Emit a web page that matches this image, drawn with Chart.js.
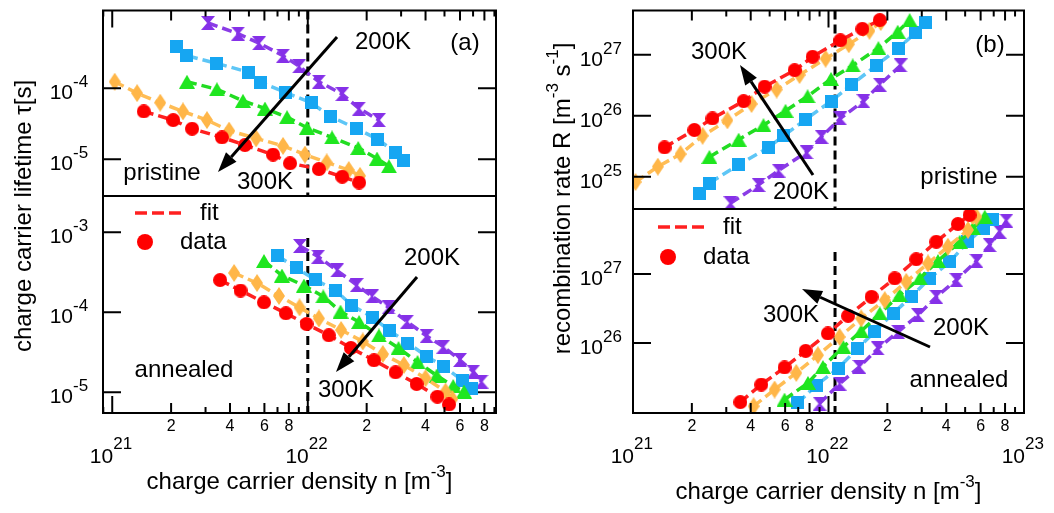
<!DOCTYPE html>
<html>
<head>
<meta charset="utf-8">
<script src="https://cdn.jsdelivr.net/npm/chart.js@4.4.1/dist/chart.umd.min.js"></script>
<style>
  html, body { margin: 0; padding: 0; background: #fff; }
  #wrap { position: relative; width: 1054px; height: 513px; }
  #wrap canvas { position: absolute; left: 0; top: 0; }
</style>
</head>
<body>
<div id="wrap">
  <canvas id="aTop" width="1054" height="513"></canvas>
  <canvas id="aBot" width="1054" height="513"></canvas>
  <canvas id="bTop" width="1054" height="513"></canvas>
  <canvas id="bBot" width="1054" height="513"></canvas>
</div>
<script>
const FONT = "'Liberation Sans', Arial, Helvetica, sans-serif";

// series order: 300K (red) ... 200K (purple)
const temps = ["300 K", "275 K", "250 K", "225 K", "200 K"];
const markerFill = ["#ff0000", "#ffb648", "#1fe61f", "#16a6f2", "#8530e8"];
const lineFill = ["#ff2020", "#ffbd55", "#22dc22", "#5ec6f6", "#8a3ce6"];

// vertical guide at fixed density, panel (a) and (b)
const guideDensity = [1.0e22, 1.08e22];
// where the guide starts in the annealed plots
const guideTopAnnealed = [8.5e-4, 2.1e27];

// labelled decades on each y axis
const decadesTauPristine = [-4, -5];
const decadesTauAnnealed = [-3, -4, -5];
const decadesRatePristine = [25, 26, 27];
const decadesRateAnnealed = [26, 27];

// ---- lifetime, pristine ----
const tauPristineN = [
  [1.45e21, 2.05e21, 2.56e21, 3.64e21, 4.77e21, 6.64e21, 8.11e21, 1.14e22, 1.50e22, 1.83e22],
  [1.03e21, 1.34e21, 1.76e21, 2.30e21, 3.05e21, 3.96e21, 5.44e21, 7.47e21, 9.67e21, 1.25e22, 1.62e22, 1.85e22],
  [2.41e21, 3.43e21, 4.66e21, 6.04e21, 7.83e21, 9.91e21, 1.33e22, 1.81e22, 2.26e22, 2.60e22],
  [2.14e21, 2.41e21, 3.43e21, 4.95e21, 5.76e21, 7.65e21, 1.04e22, 1.30e22, 1.78e22, 2.28e22, 2.82e22, 3.10e22],
  [3.09e21, 4.40e21, 5.63e21, 7.47e21, 9.02e21, 1.14e22, 1.50e22, 1.83e22, 2.31e22]
];
const tauPristine = [
  [4.72e-5, 3.56e-5, 2.69e-5, 2.03e-5, 1.58e-5, 1.16e-5, 8.75e-6, 7.24e-6, 5.65e-6, 4.68e-6],
  [1.24e-4, 8.55e-5, 6.26e-5, 4.72e-5, 3.56e-5, 2.53e-5, 1.97e-5, 1.54e-5, 1.16e-5, 9.0e-6, 7.03e-6, 5.82e-6],
  [1.24e-4, 9.69e-5, 6.67e-5, 5.19e-5, 3.92e-5, 2.78e-5, 2.03e-5, 1.44e-5, 1.02e-5, 7.96e-6],
  [3.95e-4, 2.89e-4, 2.25e-4, 1.70e-4, 1.21e-4, 8.82e-5, 6.26e-5, 4.04e-5, 2.69e-5, 1.91e-5, 1.23e-5, 9.6e-6],
  [8.37e-4, 5.93e-4, 4.34e-4, 2.89e-4, 2.05e-4, 1.24e-4, 8.29e-5, 5.19e-5, 3.56e-5]
];

// ---- lifetime, annealed ----
const tauAnnealedN = [
  [3.56e21, 4.53e21, 5.97e21, 7.73e21, 9.85e21, 1.28e22, 1.66e22, 2.18e22, 2.81e22, 3.60e22, 4.60e22, 5.27e22],
  [4.20e21, 5.50e21, 7.12e21, 9.07e21, 1.14e22, 1.48e22, 1.91e22, 2.42e22, 3.10e22, 4.00e22, 5.06e22, 5.49e22],
  [5.97e21, 7.38e21, 9.56e21, 1.20e22, 1.47e22, 1.83e22, 2.31e22, 2.91e22, 3.64e22, 4.56e22, 5.54e22, 6.29e22],
  [7.04e21, 8.71e21, 1.09e22, 1.39e22, 1.68e22, 2.14e22, 2.61e22, 3.25e22, 4.03e22, 4.96e22, 6.18e22, 6.89e22],
  [9.12e21, 1.13e22, 1.41e22, 1.78e22, 2.13e22, 2.59e22, 3.22e22, 4.05e22, 4.93e22, 6.00e22, 7.02e22, 7.74e22]
];
const tauAnnealed = [
  [2.53e-4, 1.87e-4, 1.33e-4, 9.72e-5, 7.14e-5, 5.16e-5, 3.58e-5, 2.51e-5, 1.78e-5, 1.27e-5, 8.81e-6, 7.04e-6],
  [3.10e-4, 2.32e-4, 1.60e-4, 1.15e-4, 8.37e-5, 6.01e-5, 4.32e-5, 3.01e-5, 2.19e-5, 1.50e-5, 1.02e-5, 8.25e-6],
  [4.38e-4, 2.88e-4, 2.16e-4, 1.58e-4, 1.02e-4, 7.56e-5, 5.13e-5, 3.58e-5, 2.39e-5, 1.62e-5, 1.20e-5, 1.02e-5],
  [5.06e-4, 3.58e-4, 2.56e-4, 1.86e-4, 1.22e-4, 8.69e-5, 5.92e-5, 4.13e-5, 2.84e-5, 2.09e-5, 1.41e-5, 1.11e-5],
  [6.74e-4, 4.95e-4, 3.33e-4, 2.19e-4, 1.58e-4, 1.15e-4, 7.63e-5, 5.06e-5, 3.72e-5, 2.53e-5, 1.81e-5, 1.36e-5]
];

// ---- recombination rate, pristine ----
const ratePristineN = [
  [1.45e21, 2.06e21, 2.55e21, 3.68e21, 4.71e21, 6.71e21, 8.29e21, 1.15e22, 1.49e22, 1.83e22],
  [1.03e21, 1.34e21, 1.75e21, 2.27e21, 3.04e21, 4.04e21, 5.43e21, 7.11e21, 9.66e21, 1.27e22, 1.62e22, 1.85e22],
  [2.46e21, 3.47e21, 4.65e21, 6.03e21, 7.82e21, 1.03e22, 1.33e22, 1.80e22, 2.26e22, 2.60e22],
  [2.19e21, 2.46e21, 3.47e21, 4.94e21, 5.89e21, 7.64e21, 1.03e22, 1.31e22, 1.76e22, 2.28e22, 2.79e22, 3.14e22],
  [3.15e21, 4.39e21, 5.55e21, 7.72e21, 9.22e21, 1.15e22, 1.51e22, 1.83e22, 2.34e22]
];
const ratePristine = [
  [3.04e25, 5.86e25, 9.06e25, 1.74e26, 3.01e26, 5.59e26, 9.30e26, 1.73e27, 2.67e27, 3.71e27],
  [8.22e24, 1.47e25, 2.36e25, 4.71e25, 8.43e25, 1.56e26, 2.70e26, 4.66e26, 8.65e26, 1.49e27, 2.48e27, 3.44e27],
  [2.12e25, 4.07e25, 7.03e25, 1.21e26, 2.09e26, 4.03e26, 6.71e26, 1.29e27, 2.39e27, 3.71e27],
  [5.31e24, 7.92e24, 1.58e25, 3.04e25, 4.71e25, 8.74e25, 1.74e26, 3.24e26, 6.71e26, 1.29e27, 2.31e27, 3.44e27],
  [3.69e24, 7.37e24, 1.27e25, 2.54e25, 4.54e25, 9.06e25, 1.74e26, 3.24e26, 6.71e26]
];

// ---- recombination rate, annealed ----
const rateAnnealedN = [
  [3.54e21, 4.53e21, 5.96e21, 7.64e21, 9.93e21, 1.26e22, 1.66e22, 2.18e22, 2.81e22, 3.56e22, 4.59e22, 5.27e22],
  [4.14e21, 5.30e21, 6.84e21, 8.83e21, 1.14e22, 1.47e22, 1.94e22, 2.50e22, 3.23e22, 4.08e22, 5.17e22, 5.71e22],
  [5.96e21, 7.85e21, 9.36e21, 1.19e22, 1.47e22, 1.83e22, 2.31e22, 2.93e22, 3.63e22, 4.69e22, 5.48e22, 6.30e22],
  [6.97e21, 8.66e21, 1.12e22, 1.41e22, 1.72e22, 2.14e22, 2.65e22, 3.29e22, 4.17e22, 5.17e22, 6.17e22, 6.94e22],
  [9.00e21, 1.14e22, 1.44e22, 1.79e22, 2.27e22, 2.87e22, 3.56e22, 4.51e22, 5.71e22, 6.68e22, 7.51e22, 8.13e22]
];
const rateAnnealed = [
  [1.38e25, 2.48e25, 4.39e25, 7.65e25, 1.37e26, 2.47e26, 4.67e26, 8.66e26, 1.64e27, 2.95e27, 5.34e27, 7.22e27],
  [1.20e25, 2.10e25, 3.66e25, 6.62e25, 1.22e26, 2.27e26, 4.18e26, 7.72e26, 1.43e27, 2.50e27, 4.37e27, 6.82e27],
  [1.50e25, 2.62e25, 4.47e25, 8.75e25, 1.48e26, 2.68e26, 4.95e26, 8.66e26, 1.55e27, 2.95e27, 4.63e27, 6.82e27],
  [1.34e25, 2.42e25, 4.24e25, 8.29e25, 1.45e26, 2.68e26, 4.67e26, 8.66e26, 1.51e27, 2.95e27, 4.63e27, 6.25e27],
  [1.31e25, 2.56e25, 4.47e25, 8.29e25, 1.45e26, 2.53e26, 4.67e26, 8.18e26, 1.56e27, 2.64e27, 4.13e27, 5.97e27]
];

// marker glyphs: circle, diamond, triangle, square, hourglass
function shape(w, h, color, path) {
  const c = document.createElement("canvas");
  c.width = w; c.height = h;
  const g = c.getContext("2d");
  g.fillStyle = color;
  g.beginPath();
  path(g);
  g.closePath();
  g.fill();
  return c;
}
const markers = [
  shape(14, 14, markerFill[0], g => g.arc(7, 7, 7, 0, Math.PI * 2)),
  shape(12, 18, markerFill[1], g => { g.moveTo(6, 0); g.lineTo(12, 9); g.lineTo(6, 18); g.lineTo(0, 9); }),
  shape(16, 14, markerFill[2], g => { g.moveTo(8, 0); g.lineTo(16, 14); g.lineTo(0, 14); }),
  shape(13, 13, markerFill[3], g => g.rect(0, 0, 13, 13)),
  shape(14, 14, markerFill[4], g => { g.moveTo(0, 0); g.lineTo(14, 0); g.lineTo(8, 7); g.lineTo(14, 14); g.lineTo(0, 14); g.lineTo(6, 7); })
];

// text with superscript pieces: parts = [[text, isSup], ...]
function rich(ctx, parts, x, y, align, size = 24, supSize = 17, rise = 10) {
  let w = 0;
  parts.forEach(([t, s]) => { ctx.font = (s ? supSize : size) + "px " + FONT; w += ctx.measureText(t).width; });
  let cx = align === "center" ? x - w / 2 : align === "right" ? x - w : x;
  ctx.textAlign = "left";
  ctx.textBaseline = "middle";
  parts.forEach(([t, s]) => {
    ctx.font = (s ? supSize : size) + "px " + FONT;
    ctx.fillText(t, cx, s ? y - rise : y);
    cx += ctx.measureText(t).width;
  });
}
function label(ctx, t, x, y, align = "center") {
  rich(ctx, [[t]], x, y, align);
}
function power(ctx, exp, xJoin, yBase, ySup) {
  ctx.textBaseline = "middle";
  ctx.font = "21px " + FONT;
  ctx.textAlign = "right";
  ctx.fillText("10", xJoin, yBase);
  ctx.font = "17px " + FONT;
  ctx.textAlign = "left";
  ctx.fillText(exp, xJoin, ySup);
}
function arrow(ctx, x1, y1, x2, y2) {
  const a = Math.atan2(y2 - y1, x2 - x1), L = 20, W = 7;
  const bx = x2 - L * Math.cos(a), by = y2 - L * Math.sin(a);
  ctx.setLineDash([]);
  ctx.lineWidth = 3;
  ctx.beginPath(); ctx.moveTo(x1, y1); ctx.lineTo(bx, by); ctx.stroke();
  ctx.beginPath();
  ctx.moveTo(x2, y2);
  ctx.lineTo(bx + W * Math.sin(a), by - W * Math.cos(a));
  ctx.lineTo(bx - W * Math.sin(a), by + W * Math.cos(a));
  ctx.closePath(); ctx.fill();
}
function legend(ctx, x, yFit, yData) {
  ctx.save();
  ctx.strokeStyle = lineFill[0]; ctx.lineWidth = 3.5; ctx.setLineDash([12, 5]);
  ctx.beginPath(); ctx.moveTo(x, yFit); ctx.lineTo(x + 47, yFit); ctx.stroke();
  ctx.restore();
  ctx.fillStyle = markerFill[0];
  ctx.beginPath(); ctx.arc(x + 10, yData, 8, 0, Math.PI * 2); ctx.fill();
  ctx.fillStyle = "#000";
  label(ctx, "fit", x + 65, yFit, "left");
  label(ctx, "data", x + 45, yData, "left");
}
function yTitle(ctx, parts, cx, cy) {
  ctx.save();
  ctx.translate(cx, cy);
  ctx.rotate(-Math.PI / 2);
  rich(ctx, parts, 0, 0, "center");
  ctx.restore();
}

// frame, log ticks, guide line and panel texts
function axesPlugin(spec) {
  return {
    id: "axes",
    beforeDatasetsDraw(chart) {
      const { ctx, chartArea: a, scales: { x, y } } = chart;
      const gx = x.getPixelForValue(spec.guide);
      const gy = spec.guideTop ? y.getPixelForValue(spec.guideTop) : a.top;
      ctx.save();
      ctx.strokeStyle = "#000"; ctx.lineWidth = 3; ctx.setLineDash([9, 5]);
      ctx.beginPath(); ctx.moveTo(gx, gy); ctx.lineTo(gx, a.bottom); ctx.stroke();
      ctx.restore();
    },
    afterDatasetsDraw(chart) {
      const { ctx, chartArea: a, scales: { x, y } } = chart;
      ctx.save();
      ctx.setLineDash([]);
      ctx.strokeStyle = "#000"; ctx.fillStyle = "#000"; ctx.lineWidth = 2;
      ctx.strokeRect(a.left, a.top, a.right - a.left, a.bottom - a.top);

      const top = spec.xSide === "top";
      const edge = top ? a.top : a.bottom, dir = top ? 1 : -1;
      for (let d = Math.floor(Math.log10(x.min)); d <= Math.ceil(Math.log10(x.max)); d++) {
        for (let m = 1; m <= 9; m++) {
          const v = m * Math.pow(10, d);
          if (v < x.min * 0.999 || v > x.max * 1.001) continue;
          const px = x.getPixelForValue(v);
          const len = m === 1 ? 17 : m % 2 === 0 ? 10 : 6;
          ctx.beginPath(); ctx.moveTo(px, edge); ctx.lineTo(px, edge + dir * len); ctx.stroke();
          if (top) continue;
          if (m === 1) {
            power(ctx, String(d), px + 1, a.bottom + 44, a.bottom + 31);
          } else if (m % 2 === 0) {
            ctx.font = "16px " + FONT; ctx.textAlign = "center"; ctx.textBaseline = "middle";
            ctx.fillText(String(m), px, a.bottom + 14);
          }
        }
      }

      spec.decades.forEach(d => {
        const py = y.getPixelForValue(Math.pow(10, d));
        ctx.beginPath();
        ctx.moveTo(a.left, py); ctx.lineTo(a.left + 18, py);
        ctx.moveTo(a.right - 18, py); ctx.lineTo(a.right, py);
        ctx.stroke();
        power(ctx, String(d), a.left - 30, py + 5, py - 6);
      });

      spec.decor(ctx);
      ctx.restore();
    }
  };
}

function makePanel(id, xs, ys, spec) {
  return new Chart(document.getElementById(id), {
    type: "line",
    data: {
      datasets: xs.map((nArr, i) => ({
        label: temps[i],
        data: nArr.map((n, j) => ({ x: n, y: ys[i][j] })),
        borderColor: lineFill[i],
        borderWidth: 3.5,
        borderDash: [10, 5],
        pointStyle: markers[i],
        pointRadius: 7,
        clip: 0,
        tension: 0
      }))
    },
    options: {
      responsive: false,
      maintainAspectRatio: false,
      animation: false,
      devicePixelRatio: 1,
      events: [],
      layout: {
        padding: { left: spec.area[0], top: spec.area[1], right: 1054 - spec.area[2], bottom: 513 - spec.area[3] }
      },
      scales: {
        x: { type: "logarithmic", min: spec.xRange[0], max: spec.xRange[1], display: false },
        y: { type: "logarithmic", min: spec.yRange[0], max: spec.yRange[1], display: false }
      },
      plugins: { legend: { display: false }, tooltip: { enabled: false } }
    },
    plugins: [axesPlugin(spec)]
  });
}

const xTitle = [["charge carrier density n [m"], ["-3", true], ["]"]];

makePanel("aTop", tauPristineN, tauPristine, {
  area: [103, 3, 496, 196], xRange: [8.97e20, 9.17e22], yRange: [3.02e-6, 1.256e-3],
  decades: decadesTauPristine,
  xSide: "top", guide: guideDensity[0], guideTop: null,
  decor(ctx) {
    arrow(ctx, 337, 37, 218, 172);
    label(ctx, "200K", 383, 42);
    label(ctx, "300K", 265, 182);
    label(ctx, "pristine", 162, 173);
    label(ctx, "(a)", 465, 43);
    yTitle(ctx, [["charge carrier lifetime \u03c4[s]"]], 24, 216);
  }
});

makePanel("aBot", tauAnnealedN, tauAnnealed, {
  area: [103, 196, 496, 413], xRange: [8.97e20, 9.17e22], yRange: [5.51e-6, 2.84e-3],
  decades: decadesTauAnnealed,
  xSide: "bottom", guide: guideDensity[0], guideTop: guideTopAnnealed[0],
  decor(ctx) {
    legend(ctx, 135, 213, 242);
    label(ctx, "200K", 432, 258);
    arrow(ctx, 417, 277, 336, 372);
    label(ctx, "300K", 346, 390);
    label(ctx, "annealed", 184, 370);
    rich(ctx, xTitle, 299.5, 482, "center");
  }
});

makePanel("bTop", ratePristineN, ratePristine, {
  area: [633, 3, 1024, 209], xRange: [1e21, 1e23], yRange: [2.97e24, 5.33e27],
  decades: decadesRatePristine,
  xSide: "top", guide: guideDensity[1], guideTop: null,
  decor(ctx) {
    label(ctx, "300K", 719, 52);
    arrow(ctx, 813, 175, 740, 65);
    label(ctx, "200K", 801, 192);
    label(ctx, "(b)", 990, 45);
    label(ctx, "pristine", 959, 177);
    yTitle(ctx, [["recombination rate R [m"], ["-3", true], [" s"], ["-1", true], ["]"]], 563.5, 198.5);
  }
});

makePanel("bBot", rateAnnealedN, rateAnnealed, {
  area: [633, 209, 1024, 413], xRange: [1e21, 1e23], yRange: [9.57e24, 8.83e27],
  decades: decadesRateAnnealed,
  xSide: "bottom", guide: guideDensity[1], guideTop: guideTopAnnealed[1],
  decor(ctx) {
    legend(ctx, 658, 227, 257);
    label(ctx, "300K", 791, 315);
    arrow(ctx, 930, 347, 802, 289);
    label(ctx, "200K", 961, 328);
    label(ctx, "annealed", 959, 380);
    rich(ctx, xTitle, 828.5, 492, "center");
  }
});
</script>
</body>
</html>
